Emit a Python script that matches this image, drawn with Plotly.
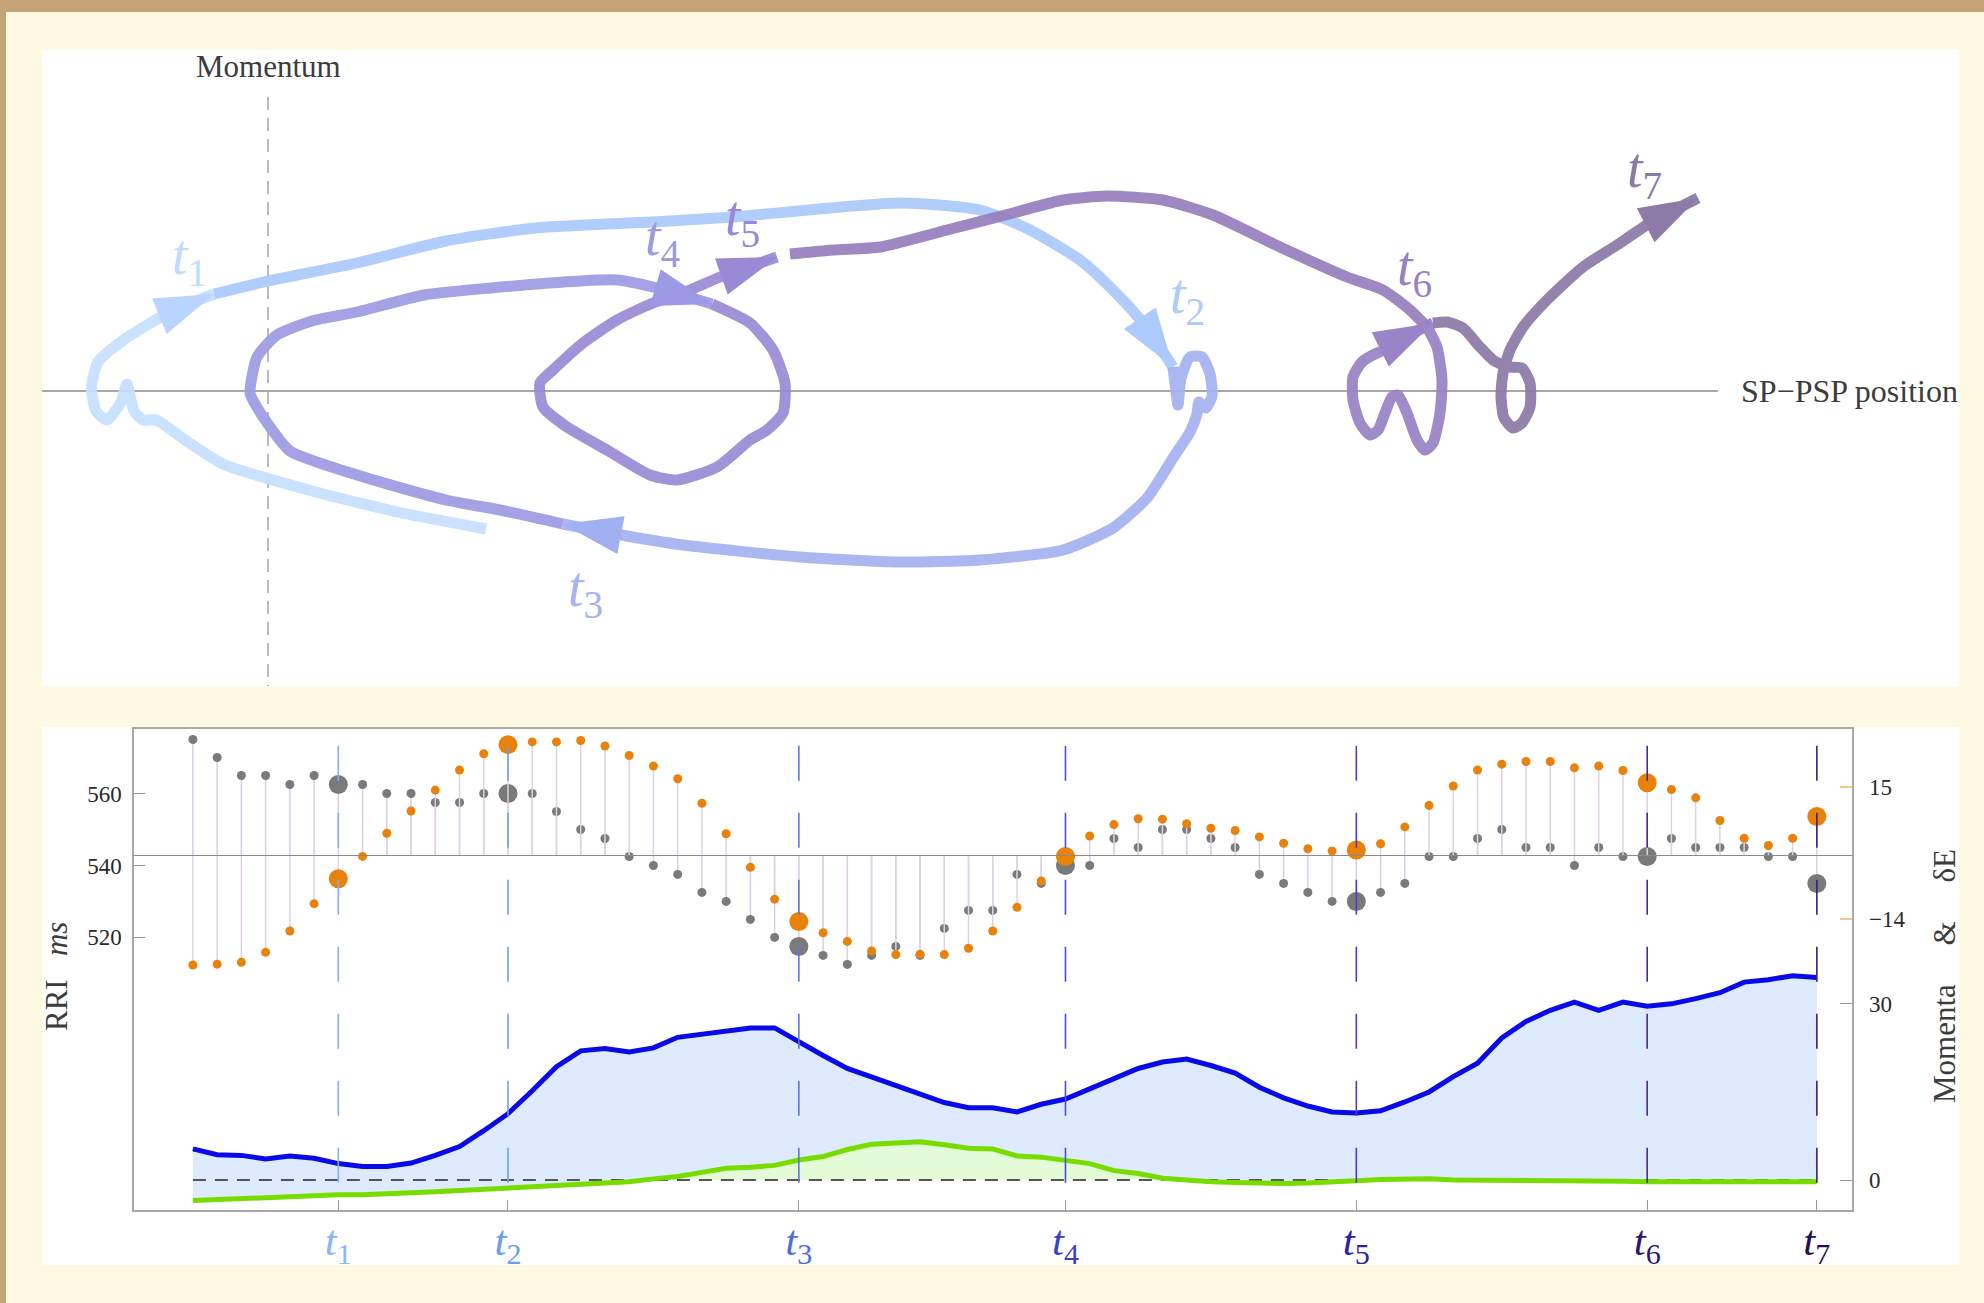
import plotly.graph_objects as go

W, H = 1984, 1303
FONT = "Liberation Serif"

# ------------------------------------------------------------------ bottom panel data
beat = list(range(68))
t_idx = [6, 13, 25, 36, 48, 60, 67]
t_names = ["1", "2", "3", "4", "5", "6", "7"]

rri = [575, 570, 565, 565, 562.5, 565, 562.5, 562.5, 560, 560,
       557.5, 557.5, 560, 560, 560, 555, 550, 547.5, 542.5, 540,
       537.5, 532.5, 530, 525, 520, 517.5, 515, 512.5, 515, 517.5,
       515, 522.5, 527.5, 527.5, 537.5, 535, 540, 540, 547.5, 545,
       550, 550, 547.5, 545, 537.5, 535, 532.5, 530, 530, 532.5,
       535, 542.5, 542.5, 547.5, 550, 545, 545, 540, 545, 542.5,
       542.5, 547.5, 545, 545, 545, 542.5, 542.5, 535]
dE = [-24.1, -23.9, -23.5, -21.3, -16.6, -10.6, -5.1, -0.2, 4.9, 9.8,
      14.4, 18.8, 22.4, 24.4, 25.0, 25.0, 25.3, 24.1, 22.0, 19.7,
      16.9, 11.5, 4.8, -2.6, -9.6, -14.5, -17.0, -18.9, -21.0, -21.8,
      -21.7, -21.8, -20.4, -16.6, -11.4, -5.6, -0.2, 4.3, 6.8, 8.1,
      8.0, 7.0, 6.0, 5.5, 4.1, 2.7, 1.5, 1.0, 1.2, 2.6,
      6.3, 11.0, 15.3, 18.8, 20.1, 20.7, 20.7, 19.3, 19.7, 18.7,
      16.0, 14.5, 12.7, 7.7, 3.8, 2.2, 3.8, 8.6]
momenta_blue = [5.3, 4.3, 4.2, 3.6, 4.1, 3.7, 2.8, 2.3, 2.3, 2.9,
                4.2, 5.7, 8.4, 11.3, 15.2, 19.3, 22.0, 22.4, 21.8, 22.5,
                24.3, 24.8, 25.4, 25.9, 25.9, 23.5, 21.2, 19.0, 17.6, 16.0,
                14.7, 13.2, 12.3, 12.3, 11.6, 12.9, 13.8, 15.5, 17.1, 19.0,
                20.1, 20.6, 19.5, 18.2, 15.8, 14.0, 12.6, 11.6, 11.4, 11.8,
                13.3, 15.0, 17.6, 19.9, 24.2, 27.0, 28.9, 30.3, 28.9, 30.3,
                29.6, 30.0, 30.9, 31.9, 33.7, 34.1, 34.8, 34.5]
momenta_green = [-3.5, -3.3, -3.1, -3.0, -2.9, -2.6, -2.5, -2.5, -2.4, -2.2,
                 -2.0, -1.8, -1.6, -1.3, -1.1, -0.8, -0.6, -0.4, -0.3, 0.2,
                 0.6, 1.3, 2.0, 2.2, 2.5, 3.4, 4.0, 5.2, 6.1, 6.3,
                 6.5, 6.0, 5.4, 5.3, 4.1, 3.9, 3.4, 2.8, 1.6, 1.1,
                 0.3, -0.1, -0.3, -0.4, -0.6, -0.6, -0.5, -0.4, -0.1, 0.1,
                 0.2, 0.2, 0.0, 0.0, -0.1, -0.1, -0.2, -0.2, -0.2, -0.2,
                 -0.3, -0.3, -0.4, -0.4, -0.3, -0.3, -0.3, -0.3]

rri_ticks = [520, 540, 560]
dE_ticks = [15, -14]
mom_ticks = [0, 30]

# ------------------------------------------------------------------ top panel (phase-space trajectory)
A_pos = [2.18, 1.34, 0.44, -0.45, -0.80, -1.12, -1.25, -1.34, -1.41, -1.47, -1.61, -1.72, -1.765, -1.70, -1.43, -0.98, -0.54]
A_mom = [-1.38, -1.22, -1.00, -0.73, -0.51, -0.29, -0.29, -0.20, 0.07, -0.11, -0.29, -0.20, 0.03, 0.29, 0.52, 0.79, 0.97]
B_pos = [-0.54, 0.00, 0.89, 1.78, 2.68, 4.02, 4.65, 6.32, 7.12, 7.62, 8.12, 8.45, 8.75, 9.05]
B_mom = [0.97, 1.10, 1.28, 1.50, 1.63, 1.70, 1.74, 1.88, 1.81, 1.61, 1.31, 1.01, 0.68, 0.24]
C_pos = [9.05, 9.08, 9.10, 9.13, 9.22, 9.34, 9.42, 9.44, 9.38, 9.31, 9.29, 9.22, 9.05, 8.79, 8.45, 7.95, 7.12, 6.32, 5.32, 4.15, 3.42, 2.95]
C_mom = [0.24, -0.01, -0.14, 0.13, 0.34, 0.34, 0.17, -0.05, -0.17, -0.11, -0.23, -0.41, -0.67, -1.07, -1.37, -1.59, -1.69, -1.71, -1.66, -1.54, -1.42, -1.33]
D_pos = [2.95, 2.32, 1.78, 0.89, 0.22, 0.00, -0.14, -0.18, -0.11, 0.09, 0.44, 0.89, 1.56, 2.23, 3.12, 3.49, 3.85, 4.44]
D_mom = [-1.33, -1.19, -1.09, -0.84, -0.60, -0.33, -0.11, -0.02, 0.34, 0.56, 0.70, 0.79, 0.96, 1.03, 1.10, 1.11, 1.04, 0.87]
E_pos = [4.44, 4.82, 5.05, 5.17, 5.15, 4.99, 4.82, 4.49, 4.09, 3.82, 3.39, 2.99, 2.75, 2.72, 2.85, 3.15, 3.49, 3.85, 4.22, 4.52, 5.09]
E_mom = [0.87, 0.68, 0.41, 0.08, -0.22, -0.39, -0.49, -0.76, -0.89, -0.84, -0.59, -0.36, -0.16, 0.08, 0.21, 0.48, 0.71, 0.88, 1.01, 1.14, 1.34]
F_pos = [5.22, 5.65, 6.12, 6.79, 7.45, 7.95, 8.39, 8.95, 9.45, 10.12, 10.79, 11.15, 11.42, 11.59]
F_mom = [1.37, 1.41, 1.44, 1.61, 1.78, 1.91, 1.95, 1.91, 1.76, 1.44, 1.14, 1.01, 0.81, 0.64]
G1_pos = [11.59, 11.69, 11.74, 11.72, 11.65, 11.57, 11.49, 11.39, 11.30, 11.24, 11.17, 11.10, 11.02, 10.92, 10.85, 10.85, 10.94, 11.09, 11.25, 11.45, 11.65]
G1_mom = [0.64, 0.44, 0.11, -0.22, -0.52, -0.59, -0.49, -0.22, -0.04, -0.06, -0.22, -0.39, -0.44, -0.32, -0.09, 0.14, 0.29, 0.38, 0.44, 0.58, 0.68]
G2_pos = [11.65, 11.79, 11.95, 12.12, 12.25, 12.40, 12.54, 12.62, 12.62, 12.54, 12.45, 12.36, 12.33, 12.35, 12.42, 12.55, 12.79, 13.15, 13.49, 13.82, 14.30]
G2_mom = [0.68, 0.69, 0.63, 0.44, 0.31, 0.24, 0.23, 0.08, -0.16, -0.32, -0.37, -0.27, -0.06, 0.18, 0.41, 0.64, 0.91, 1.24, 1.46, 1.68, 1.93]

pieces = [(A_pos, A_mom), (B_pos, B_mom), (C_pos, C_mom), (D_pos, D_mom),
          (E_pos, E_mom), (F_pos, F_mom), (G1_pos, G1_mom), (G2_pos, G2_mom)]
piece_colors = ["#c6dfff", "#accafb", "#a5b2ef", "#9e9ce3", "#9a8bd6", "#9680bd", "#9783c3", "#8c7ba7"]
arrow_colors = ["#b9d5ff", "#accafb", "#a1b0f0", "#9c9ae4", "#998ad6", None, "#9984c8", "#8b7ba6"]
arrow_labels = ["1", "2", "3", "4", "5", None, "6", "7"]
top_label_pos = {"1": (-0.79, 1.32), "2": (9.19, 0.93), "3": (3.17, -2.00), "4": (3.94, 1.51),
                 "5": (4.74, 1.71), "6": (11.46, 1.21), "7": (13.76, 2.19)}
top_label_colors = {"1": "#c3dbff", "2": "#b0ccfc", "3": "#a6b5f0", "4": "#9d9ae0",
                    "5": "#9a88d6", "6": "#9782c4", "7": "#8b7aa3"}

t_line_colors = ["#80b0f6", "#6e9ff2", "#5a78e8", "#4b4edc", "#5537c4", "#4a2a98", "#3d1f80"]
t_tick_colors = ["#88b6f7", "#6d9cf0", "#4f6fe0", "#3a3fc8", "#2f22a0", "#2e1670", "#25104f"]


def fx(px):
    return px / W


def fy(py):
    return 1 - py / H


fig = go.Figure()

# ---------------- top panel traces
for (pp, mm), col in zip(pieces, piece_colors):
    fig.add_trace(go.Scatter(x=pp, y=mm, mode="lines", xaxis="x", yaxis="y",
                             line=dict(color=col, width=11, shape="spline", smoothing=0.6),
                             opacity=0.93, hoverinfo="skip", showlegend=False))
for (pp, mm), acol in zip(pieces, arrow_colors):
    if acol is None:
        continue
    fig.add_trace(go.Scatter(x=pp[-2:], y=mm[-2:], mode="markers", xaxis="x", yaxis="y",
                             marker=dict(symbol="arrow", size=[0, 62], angleref="previous",
                                         color=acol, opacity=1, line=dict(width=0)),
                             hoverinfo="skip", showlegend=False))

# ---------------- bottom panel traces
rri_mean = sum(rri) / len(rri)
big = set(t_idx)
dot_sizes = [19 if b in big else 9 for b in beat]

stem_x, stem_y = [], []
for b, v in zip(beat, rri):
    stem_x += [b, b, None]
    stem_y += [rri_mean, v, None]
fig.add_trace(go.Scatter(x=stem_x, y=stem_y, mode="lines", xaxis="x2", yaxis="y2",
                         line=dict(color="#d6cfe8", width=1.5), hoverinfo="skip", showlegend=False))
fig.add_trace(go.Scatter(x=beat, y=rri, mode="markers", xaxis="x2", yaxis="y2",
                         marker=dict(color="#7a7a7a", size=dot_sizes, opacity=1, line=dict(width=0)),
                         showlegend=False, name="RRI"))

dstem_x, dstem_y = [], []
for b, v in zip(beat, dE):
    dstem_x += [b, b, None]
    dstem_y += [0, v, None]
fig.add_trace(go.Scatter(x=dstem_x, y=dstem_y, mode="lines", xaxis="x2", yaxis="y3",
                         line=dict(color="#e0d2e3", width=1.5), hoverinfo="skip", showlegend=False))
fig.add_trace(go.Scatter(x=beat, y=dE, mode="markers", xaxis="x2", yaxis="y3",
                         marker=dict(color="#e8820a", size=dot_sizes, opacity=1, line=dict(width=0)),
                         showlegend=False, name="dE"))

# momenta fills
fig.add_trace(go.Scatter(x=beat, y=momenta_green, mode="lines", xaxis="x2", yaxis="y4",
                         line=dict(width=0, color="#e4fbd8"), fill="tozeroy", fillcolor="#e4fbd8",
                         hoverinfo="skip", showlegend=False))
fig.add_trace(go.Scatter(x=beat, y=momenta_blue, mode="lines", xaxis="x2", yaxis="y4",
                         line=dict(width=0, color="#deeafd"), fill="tonexty", fillcolor="#deeafd",
                         hoverinfo="skip", showlegend=False))
fig.add_trace(go.Scatter(x=[beat[0], beat[-1]], y=[0, 0], mode="lines", xaxis="x2", yaxis="y4",
                         line=dict(color="#555555", width=2, dash="13px,9px"),
                         hoverinfo="skip", showlegend=False))
fig.add_trace(go.Scatter(x=beat, y=momenta_green, mode="lines", xaxis="x2", yaxis="y4",
                         line=dict(color="#78dc00", width=5), showlegend=False))
fig.add_trace(go.Scatter(x=beat, y=momenta_blue, mode="lines", xaxis="x2", yaxis="y4",
                         line=dict(color="#0a0ae8", width=5), showlegend=False))

# ---------------- axes
dE_range = [-78.0, 27.84]
rri_span = 133.64
frac0 = -dE_range[0] / (dE_range[1] - dE_range[0])
rri_range = [rri_mean - frac0 * rri_span, rri_mean + (1 - frac0) * rri_span]

tick_font = dict(family=FONT, size=23, color="#2a2a2a")
bottom_dom_y = [fy(1210), fy(729)]

fig.update_layout(
    width=W, height=H, autosize=False,
    margin=dict(l=0, r=0, t=0, b=0),
    paper_bgcolor="#fef9e2", plot_bgcolor="white",
    showlegend=False,
    xaxis=dict(domain=[fx(42), fx(1959)], range=[-2.26, 16.91], visible=False, anchor="y"),
    yaxis=dict(domain=[fy(686), fy(51)], range=[-2.95, 3.40], visible=False, anchor="x"),
    xaxis2=dict(domain=[fx(134), fx(1852)], range=[-2.43, 68.45], anchor="y2",
                showline=True, mirror=True, linecolor="#a8a8a8", linewidth=1.5,
                showgrid=False, zeroline=False, ticks="inside", ticklen=10, tickcolor="#999999",
                tickvals=t_idx,
                ticktext=[f'<span style="color:{c}"><i>t</i><sub>{n}</sub></span>'
                          for n, c in zip(t_names, t_tick_colors)],
                tickfont=dict(family=FONT, size=43), ticklabelstandoff=-8),
    yaxis2=dict(domain=bottom_dom_y, range=rri_range, anchor="x2",
                showline=True, mirror=True, linecolor="#a8a8a8", linewidth=1.5,
                showgrid=False, zeroline=False, ticks="inside", ticklen=11, tickcolor="#999999",
                tickvals=rri_ticks, tickfont=tick_font, ticklabelstandoff=6),
    yaxis3=dict(overlaying="y2", side="right", anchor="x2", range=dE_range,
                showline=False, showgrid=False, zeroline=False, ticks="inside", ticklen=12,
                tickcolor="#f5c68e", tickwidth=1.5, tickvals=dE_ticks, tickfont=tick_font,
                ticklabelstandoff=16),
    yaxis4=dict(overlaying="y2", side="right", anchor="x2", range=[-5.1, 76.8],
                showline=False, showgrid=False, zeroline=False, ticks="inside", ticklen=12,
                tickcolor="#999999", tickvals=mom_ticks, tickfont=tick_font,
                ticklabelstandoff=16),
)

shapes = [
    dict(type="rect", xref="paper", yref="paper", x0=fx(42), x1=fx(1959), y0=fy(686), y1=fy(50),
         fillcolor="white", line=dict(width=0), layer="below"),
    dict(type="rect", xref="paper", yref="paper", x0=fx(42), x1=fx(1959), y0=fy(1265), y1=fy(727),
         fillcolor="white", line=dict(width=0), layer="below"),
    dict(type="rect", xref="paper", yref="paper", x0=0, x1=1, y0=fy(12), y1=1,
         fillcolor="#c4a377", line=dict(width=0), layer="above"),
    dict(type="rect", xref="paper", yref="paper", x0=0, x1=fx(6), y0=0, y1=1,
         fillcolor="#c4a377", line=dict(width=0), layer="above"),
    dict(type="line", xref="x", yref="y", x0=-2.26, x1=14.50, y0=0, y1=0,
         line=dict(color="#8a8a8a", width=1.3), layer="below"),
    dict(type="line", xref="x", yref="y", x0=0, x1=0, y0=2.94, y1=-2.95,
         line=dict(color="#a8a8a8", width=1.6, dash="13px,8px"), layer="below"),
    dict(type="line", xref="x2 domain", yref="y3", x0=0, x1=1, y0=0, y1=0,
         line=dict(color="#8a8a8a", width=1.2), layer="above"),
]
for ti, col in zip(t_idx, t_line_colors):
    shapes.append(dict(type="line", xref="x2", yref="y2 domain", x0=ti, x1=ti, y0=0.965, y1=0.056,
                       line=dict(color=col, width=1.6, dash="35px,32px"), layer="above"))
fig.update_layout(shapes=shapes)

ann = [
    dict(text="Momentum", x=fx(268), y=fy(66), xref="paper", yref="paper", showarrow=False,
         xanchor="center", yanchor="middle", font=dict(family=FONT, size=31, color="#3c3c3c")),
    dict(text="SP\u2212PSP position", x=fx(1739), y=fy(391), xref="paper", yref="paper",
         showarrow=False, xanchor="left", yanchor="middle",
         font=dict(family=FONT, size=32, color="#3c3c3c")),
    dict(text="RRI\u00a0\u00a0\u00a0<i>ms</i>", x=fx(56), y=fy(977), xref="paper", yref="paper",
         showarrow=False, textangle=-90, xanchor="center", yanchor="middle",
         font=dict(family=FONT, size=31, color="#3c3c3c")),
    dict(text="Momenta\u00a0\u00a0\u00a0\u00a0\u00a0&amp;\u00a0\u00a0\u00a0\u00a0\u00a0\u03b4E",
         x=fx(1944), y=fy(976), xref="paper", yref="paper",
         showarrow=False, textangle=-90, xanchor="center", yanchor="middle",
         font=dict(family=FONT, size=31, color="#3c3c3c")),
]
for lab in arrow_labels:
    if lab is None:
        continue
    lx, ly = top_label_pos[lab]
    ann.append(dict(text=f"<i>t</i><sub>{lab}</sub>", x=lx, y=ly, xref="x", yref="y",
                    showarrow=False, xanchor="center", yanchor="middle",
                    font=dict(family=FONT, size=56, color=top_label_colors[lab])))
fig.update_layout(annotations=ann)

fig.write_html("out.html")
